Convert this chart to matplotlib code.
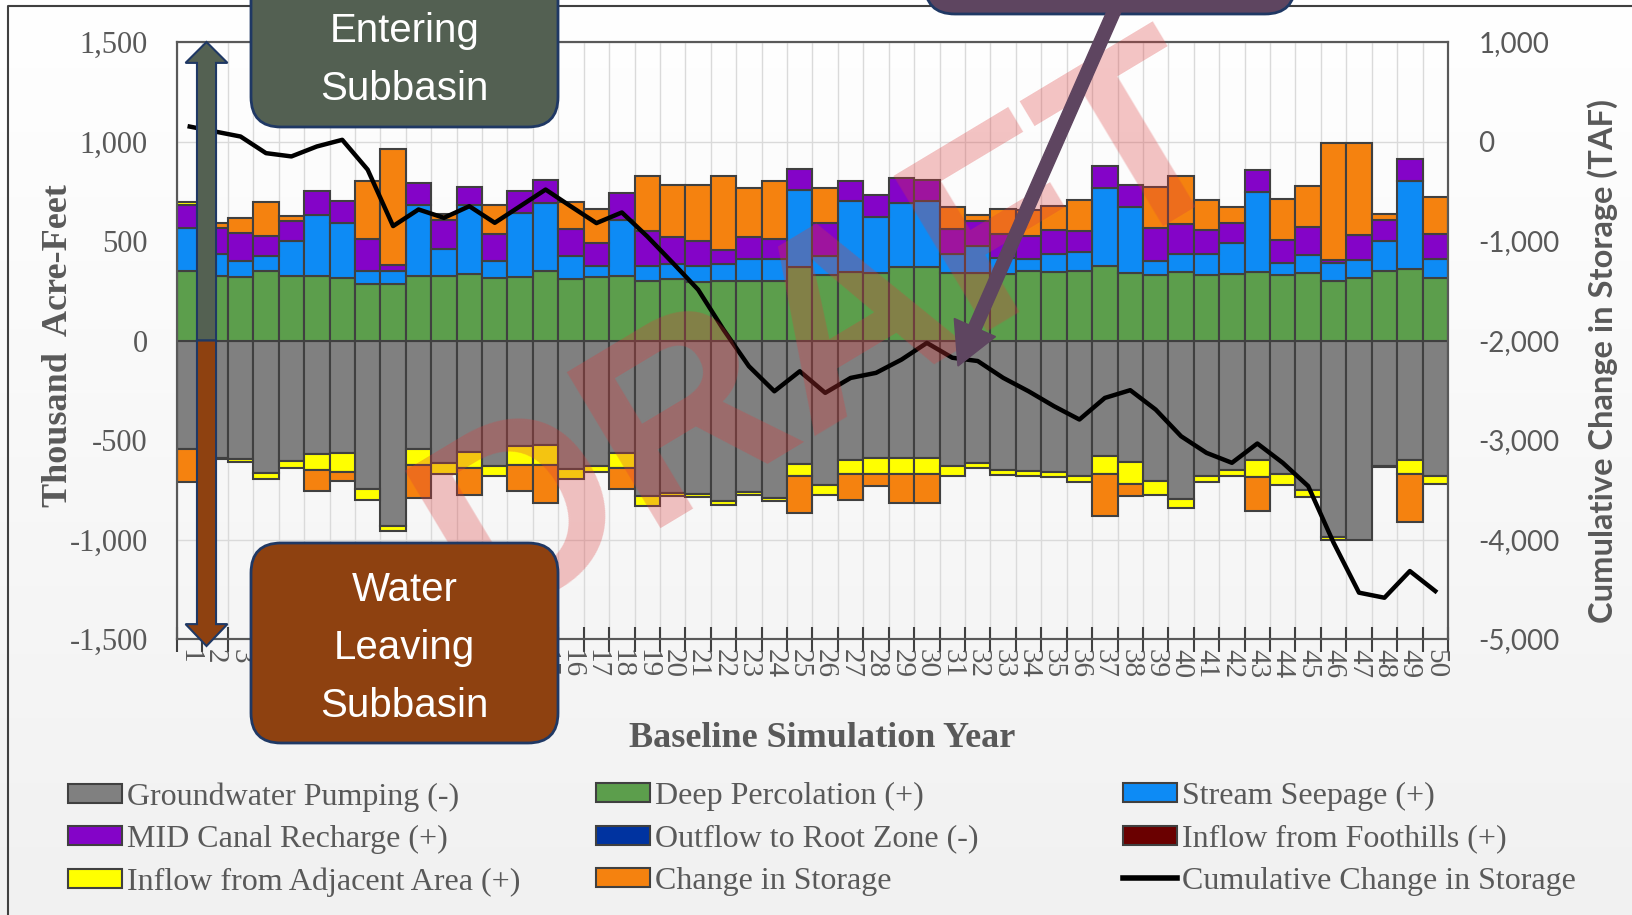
import numpy as np
import matplotlib
matplotlib.use("Agg")
import matplotlib.pyplot as plt
from matplotlib.patches import Patch, FancyArrow, FancyBboxPatch
from matplotlib.lines import Line2D
from matplotlib.colors import LinearSegmentedColormap

# water budget per simulation year, thousand acre-feet
years = list(range(1, 51))
pumping = [-545, -590, -595, -665, -607, -570, -565, -746, -934, -545,
           -616, -562, -632, -532, -524, -646, -629, -565, -783, -766,
           -770, -808, -761, -791, -619, -724, -602, -590, -590, -590,
           -629, -616, -649, -657, -662, -683, -579, -612, -708, -796,
           -683, -649, -602, -669, -753, -987, -1004, -632, -602, -683]
deep_perc = [350, 325, 317, 350, 325, 325, 312, 283, 283, 325,
             325, 333, 312, 317, 350, 310, 317, 325, 300, 308,
             295, 300, 300, 300, 367, 328, 342, 338, 367, 367,
             338, 338, 333, 350, 345, 350, 375, 338, 328, 345,
             328, 333, 345, 328, 338, 300, 312, 350, 358, 312]
stream = [217, 108, 83, 75, 175, 308, 276, 67, 67, 358,
          133, 350, 88, 325, 342, 117, 58, 283, 75, 75,
          80, 83, 108, 108, 388, 97, 358, 283, 325, 333,
          95, 137, 83, 58, 88, 95, 392, 333, 72, 88,
          105, 158, 400, 60, 90, 87, 95, 150, 442, 100]
mid_canal = [116, 134, 142, 100, 100, 117, 115, 158, 30, 108,
             150, 89, 133, 108, 116, 133, 117, 133, 175, 138,
             125, 72, 113, 100, 107, 163, 100, 112, 125, 108,
             125, 125, 117, 117, 122, 105, 108, 112, 167, 150,
             122, 97, 110, 117, 143, 20, 122, 108, 112, 125]
adjacent = [15, -5, -17, -33, -33, -80, -95, -57, -25, -79,
            -53, -78, -51, -92, -100, -50, -30, -75, -50, -17,
            -15, -17, -13, -17, -64, -50, -67, -79, -79, -79,
            -50, -24, -25, -22, -24, -30, -90, -107, -67, -46,
            -30, -30, -84, -55, -33, -15, 0, -5, -67, -40]
storage = [-165, 25, 75, 172, 28, -108, -45, 292, 580, -167,
           30, -135, 150, -134, -192, 138, 167, -106, 278, 262,
           283, 370, 245, 292, -184, 178, -134, -64, -147, -147,
           113, 33, 128, 133, 123, 158, -211, -60, 205, 245,
           153, 83, -172, 208, 207, 583, 463, 30, -244, 183]
cumulative = [150, 100, 50, -117, -150, -50, 17, -283, -850, -683,
              -767, -650, -817, -650, -483, -653, -820, -713, -954, -1219,
              -1489, -1891, -2259, -2510, -2309, -2526, -2376, -2325, -2192, -2024,
              -2173, -2206, -2375, -2510, -2660, -2794, -2577, -2499, -2694, -2962,
              -3129, -3229, -3035, -3229, -3463, -4032, -4534, -4585, -4317, -4518]

left_ticks = [-1500, -1000, -500, 0, 500, 1000, 1500]
right_ticks = [-5000, -4000, -3000, -2000, -1000, 0, 1000]

c_pump = "#808080"
c_deep = "#5c9e4c"
c_stream = "#0d8bf5"
c_mid = "#8404c8"
c_root = "#0033a0"
c_foot = "#6a0000"
c_adj = "#ffff00"
c_stor = "#f5820f"
edge = "#404040"
txt = "#595959"

plt.rcParams["font.family"] = ["Liberation Serif", "DejaVu Serif"]

fig = plt.figure(figsize=(16.33, 9.15), dpi=100)

# soft white-to-grey background
bg = fig.add_axes([0, 0, 1, 1], zorder=-10)
grad = np.linspace(1, 0, 256).reshape(-1, 1)
bg.imshow(grad, aspect="auto", extent=[0, 1, 0, 1],
          cmap=LinearSegmentedColormap.from_list("bg", ["#f1f1f1", "#ffffff"]))
bg.axis("off")
fig.add_artist(Line2D([8.5 / 1633, 8.5 / 1633, 1], [0, 1 - 5.5 / 915, 1 - 5.5 / 915],
                      transform=fig.transFigure, color=edge, lw=1.5))

ax = fig.add_axes([0.1084, 0.3016, 0.7783, 0.6525])
ax.set_facecolor("none")

series = [(pumping, c_pump), (deep_perc, c_deep), (stream, c_stream),
          (mid_canal, c_mid), (adjacent, c_adj), (storage, c_stor)]
pos = np.zeros(len(years))
neg = np.zeros(len(years))
for vals, col in series:
    v = np.array(vals, dtype=float)
    base = np.where(v >= 0, pos, neg)
    ax.bar(years, v, bottom=base, width=1.0, color=col, edgecolor=edge, linewidth=1.5, zorder=2)
    pos += np.clip(v, 0, None)
    neg += np.clip(v, None, 0)

ax.set_xlim(0.5, 50.5)
ax.set_ylim(-1500, 1500)
ax.set_yticks(left_ticks)
ax.set_yticklabels([f"{t:,}" for t in left_ticks])
ax.tick_params(axis="y", length=0, pad=21, labelsize=22, labelcolor=txt)
ax.set_xticks(np.arange(0.5, 51, 1))
ax.set_xticks(years, minor=True)
ax.set_xticklabels([str(y) for y in years], minor=True)
ax.tick_params(axis="x", which="major", direction="inout", length=18, width=1.5,
               color=edge, labelbottom=False)
ax.tick_params(axis="x", which="minor", length=0, pad=7, labelsize=21,
               labelcolor=txt, labelrotation=-90)
ax.grid(axis="y", color="#dadada", lw=1)
ax.grid(axis="x", which="major", color="#dadada", lw=1)
ax.set_axisbelow(True)

ax.set_ylabel("Thousand  Acre-Feet", fontsize=26, fontweight="bold", color=txt,
              ha="center", va="center")
ax.yaxis.set_label_coords(-0.093, 0.491)
ax.set_xlabel("Baseline Simulation Year", fontsize=26, fontweight="bold", color=txt,
              ha="center", va="center")
ax.xaxis.set_label_coords(0.508, -0.166)

ax2 = ax.twinx()
ax2.plot(years, cumulative, color="black", lw=3.2, zorder=3)
ax2.set_ylim(-5000, 1000)
ax2.set_yticks(right_ticks)
ax2.set_yticklabels([f"{t:,}" for t in right_ticks], family="Lato")
ax2.tick_params(axis="y", length=0, pad=22, labelsize=20, labelcolor=txt)
ax2.set_ylabel("Cumulative Change in Storage (TAF)", family="Lato", fontsize=23.5,
               fontweight="bold", color=txt, ha="center", va="center", rotation=90)
ax2.yaxis.set_label_coords(1.122, 0.466)

for a in (ax, ax2):
    for s in a.spines.values():
        s.set_color(txt)
        s.set_linewidth(1.5)

# in / out arrow on the left
navy = "#1f3864"
ax2.add_patch(FancyArrow(1.66, 0, 0, 1500, width=0.75, head_width=1.65, head_length=105,
                         length_includes_head=True, transform=ax.transData,
                         facecolor="#546152", edgecolor=navy, lw=1.5, clip_on=False, zorder=6))
ax2.add_patch(FancyArrow(1.66, 0, 0, -1535, width=0.75, head_width=1.65, head_length=110,
                         length_includes_head=True, transform=ax.transData,
                         facecolor="#8e4110", edgecolor=navy, lw=1.5, clip_on=False, zorder=6))

# watermark
fig.text(0.507, 0.632, "DRAFT", rotation=31, fontsize=190, fontweight="bold",
         family="Liberation Sans", color="#dc3c3c", alpha=0.3,
         ha="center", va="center", zorder=5)

inch = fig.dpi_scale_trans
H = 9.15
box_font = ["Liberation Sans Narrow", "Liberation Sans"]
fig.add_artist(FancyBboxPatch((2.51, H - 1.27), 3.07, 2.0,
                              boxstyle="round,pad=0,rounding_size=0.3",
                              facecolor="#536052", edgecolor=navy, lw=2,
                              transform=inch, zorder=6))
fig.text(4.045, H - 0.31, "Entering", transform=inch, family=box_font, fontsize=29,
         color="white", ha="center", va="center", zorder=7)
fig.text(4.045, H - 0.89, "Subbasin", transform=inch, family=box_font, fontsize=29,
         color="white", ha="center", va="center", zorder=7)

fig.add_artist(FancyBboxPatch((2.51, H - 7.43), 3.07, 2.0,
                              boxstyle="round,pad=0,rounding_size=0.3",
                              facecolor="#8e4110", edgecolor=navy, lw=2,
                              transform=inch, zorder=6))
for txt_line, yy in [("Water", 5.90), ("Leaving", 6.48), ("Subbasin", 7.06)]:
    fig.text(4.045, H - yy, txt_line, transform=inch, family=box_font, fontsize=29,
             color="white", ha="center", va="center", zorder=7)

mauve = "#5e4560"
fig.add_artist(FancyBboxPatch((9.25, H - 0.14), 3.70, 1.5,
                              boxstyle="round,pad=0,rounding_size=0.3",
                              facecolor=mauve, edgecolor=navy, lw=2,
                              transform=inch, zorder=6))
fig.add_artist(FancyArrow(11.19, H - 0.0, 9.58 - 11.19, -(3.66 - 0.0), width=0.13,
                          head_width=0.45, head_length=0.42, length_includes_head=True,
                          facecolor=mauve, edgecolor=mauve, lw=1,
                          transform=inch, zorder=7))

# legend, three columns
def bar_handle(c):
    return Patch(facecolor=c, edgecolor=edge, lw=1.5)

cols = [
    ([bar_handle(c_pump), bar_handle(c_mid), bar_handle(c_adj)],
     ["Groundwater Pumping (-)", "MID Canal Recharge (+)", "Inflow from Adjacent Area (+)"], 68),
    ([bar_handle(c_deep), bar_handle(c_root), bar_handle(c_stor)],
     ["Deep Percolation (+)", "Outflow to Root Zone (-)", "Change in Storage"], 596),
    ([bar_handle(c_stream), bar_handle(c_foot), Line2D([], [], color="black", lw=4)],
     ["Stream Seepage (+)", "Inflow from Foothills (+)", "Cumulative Change in Storage"], 1123),
]
for hs, labs, xpx in cols:
    fig.legend(hs, labs, loc="upper left", bbox_to_anchor=(xpx / 1633, 1 - 782 / 915),
               frameon=False, prop={"family": "Liberation Serif", "size": 23},
               labelcolor=txt, handlelength=1.7, handleheight=0.55, handletextpad=0.15,
               labelspacing=0.42, borderpad=0, borderaxespad=0)

fig.savefig("out.png", dpi=100)
